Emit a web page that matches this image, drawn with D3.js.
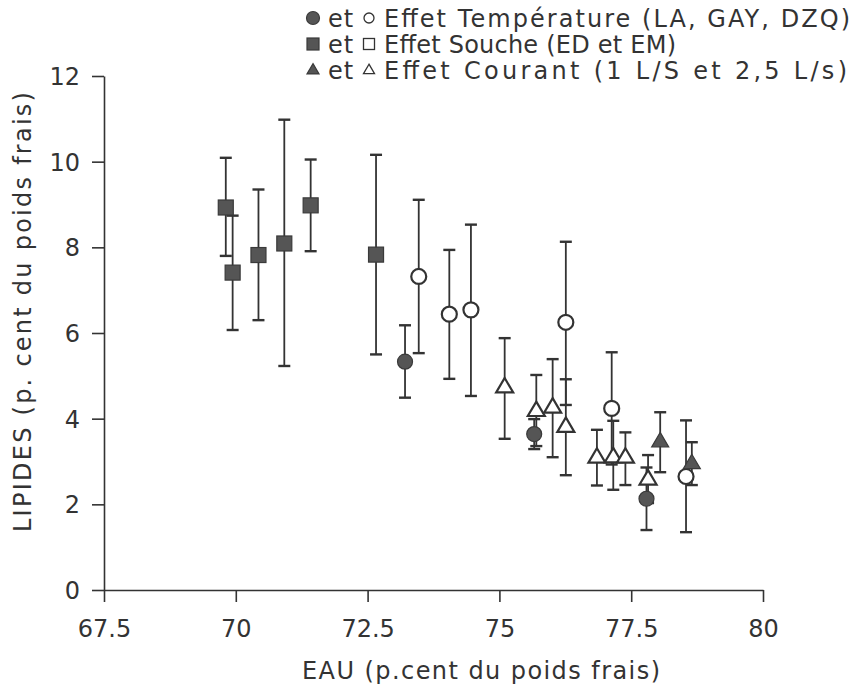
<!DOCTYPE html>
<html>
<head>
<meta charset="utf-8">
<script src="https://cdn.jsdelivr.net/npm/d3@7"></script>
<style>
  html, body { margin: 0; padding: 0; background: #fff; }
  svg { display: block; }
  text { font-family: "DejaVu Sans", sans-serif; fill: #333; }
</style>
</head>
<body>
<svg id="chart" width="859" height="691"></svg>
<script>
// ---- data ----
const xTicks = [67.5, 70, 72.5, 75, 77.5, 80];
const yTicks = [0, 2, 4, 6, 8, 10, 12];
const xTickLabels = ["67.5", "70", "72.5", "75", "77.5", "80"];
const xTitle = "EAU (p.cent du poids frais)";
const yTitle = "LIPIDES (p. cent du poids frais)";
const legendLabels = [
  "Effet Température (LA, GAY, DZQ)",
  "Effet Souche (ED et EM)",
  "Effet Courant (1 L/S et 2,5 L/s)"
];
// [x, y, low, high]
const temperatureFilled = [[73.21, 5.33, 4.49, 6.18], [75.66, 3.64, 3.29, 3.99], [77.79, 2.13, 1.40, 2.86]];
const temperatureOpen = [[73.47, 7.32, 5.53, 9.11], [74.05, 6.44, 4.93, 7.94], [74.46, 6.54, 4.53, 8.53],
                         [76.26, 6.25, 4.32, 8.13], [77.13, 4.24, 2.93, 5.55], [78.54, 2.65, 1.35, 3.96]];
const soucheFilled = [[69.81, 8.93, 7.80, 10.09], [69.94, 7.41, 6.07, 8.74], [70.43, 7.82, 6.30, 9.35],
                      [70.92, 8.09, 5.23, 10.98], [71.42, 8.98, 7.91, 10.05], [72.66, 7.83, 5.50, 10.16]];
const soucheOpen = [];
const courantFilled = [[78.05, 3.47, 2.75, 4.15], [78.65, 2.96, 2.45, 3.45]];
const courantOpen = [[75.10, 4.74, 3.53, 5.88], [75.70, 4.19, 3.36, 5.02], [76.01, 4.27, 3.10, 5.39],
                     [76.26, 3.82, 2.68, 4.92], [76.85, 3.10, 2.44, 3.74], [77.16, 3.11, 2.34, 3.95],
                     [77.39, 3.10, 2.45, 3.68], [77.82, 2.59, 2.03, 3.15]];

// ---- drawing ----
const INK = "#333";
const FILL = "#555";
const FS = "24px";
const svg = d3.select("#chart");
const x = d3.scaleLinear().domain([67.5, 80]).range([104, 763]);
const y = d3.scaleLinear().domain([0, 12]).range([590, 76]);

// axes
const gx = svg.append("g").attr("transform", "translate(0,590)")
  .call(d3.axisBottom(x).tickValues(xTicks).tickSize(12).tickSizeOuter(0)
    .tickFormat((d, i) => xTickLabels[i]));
const gy = svg.append("g").attr("transform", "translate(104,0)")
  .call(d3.axisLeft(y).tickValues(yTicks).tickSize(12).tickSizeOuter(0).tickFormat(d3.format("d")));
[gx, gy].forEach(g => {
  g.select(".domain").attr("stroke", INK).attr("stroke-width", 1.6);
  g.selectAll(".tick line").attr("stroke", INK).attr("stroke-width", 1.6);
  g.selectAll(".tick text").style("font-family", "'DejaVu Sans', sans-serif")
    .style("font-size", FS).attr("fill", INK);
});
gx.selectAll(".tick text").attr("dy", "0").attr("y", 47);
gy.selectAll(".tick text").attr("x", -24).attr("dy", "0.36em");

svg.append("text").attr("x", 481).attr("y", 679).attr("text-anchor", "middle")
  .style("font-size", FS).attr("textLength", 358).attr("lengthAdjust", "spacing").text(xTitle);
svg.append("text").attr("transform", "translate(31,312) rotate(-90)").attr("text-anchor", "middle")
  .style("font-size", FS).attr("textLength", 440).attr("lengthAdjust", "spacing").text(yTitle);

// symbols
function drawSym(g, type, filled, size) {
  const s = size;
  let el;
  if (type === "circle") {
    el = g.append("circle").attr("r", s / 2);
  } else if (type === "square") {
    el = g.append("rect").attr("x", -s / 2).attr("y", -s / 2).attr("width", s).attr("height", s);
  } else {
    const h = s * 0.85;
    el = g.append("path").attr("d", `M0,${-h * 0.62}L${s / 2},${h * 0.38}L${-s / 2},${h * 0.38}Z`);
  }
  el.attr("fill", filled ? FILL : "#fff").attr("stroke", filled ? "#3a3a3a" : INK)
    .attr("stroke-width", filled ? 1.2 : 2.2);
}

const series = [
  { data: soucheFilled, type: "square", filled: true },
  { data: soucheOpen, type: "square", filled: false },
  { data: temperatureOpen, type: "circle", filled: false },
  { data: courantOpen, type: "triangle", filled: false },
  { data: temperatureFilled, type: "circle", filled: true },
  { data: courantFilled, type: "triangle", filled: true }
];

// error bars first
const bars = svg.append("g");
series.forEach(s => {
  s.data.forEach(d => {
    const cx = x(d[0]);
    const g = bars.append("g").attr("stroke", INK).attr("stroke-width", 1.8);
    g.append("line").attr("x1", cx).attr("x2", cx).attr("y1", y(d[2])).attr("y2", y(d[3]));
    g.append("line").attr("x1", cx - 6).attr("x2", cx + 6).attr("y1", y(d[2])).attr("y2", y(d[2])).attr("stroke-width", 2.4);
    g.append("line").attr("x1", cx - 6).attr("x2", cx + 6).attr("y1", y(d[3])).attr("y2", y(d[3])).attr("stroke-width", 2.4);
  });
});
const marks = svg.append("g");
series.forEach(s => {
  s.data.forEach(d => {
    const g = marks.append("g").attr("transform", `translate(${x(d[0])},${y(d[1])})`);
    drawSym(g, s.type, s.filled, s.type === "triangle" ? 17 : 15);
  });
});

// legend
const legendTypes = ["circle", "square", "triangle"];
const legendWidths = [466, 292, 463];
legendLabels.forEach((lab, i) => {
  const ly = 18 + i * 26;
  const g = svg.append("g");
  drawSym(g.append("g").attr("transform", `translate(313,${ly})`), legendTypes[i], true, legendTypes[i] === "circle" ? 13 : 12);
  g.append("text").attr("x", 328).attr("y", ly).attr("dy", "0.36em").style("font-size", FS)
    .style("letter-spacing", "1px").text("et");
  const og = g.append("g").attr("transform", `translate(369,${ly})`);
  const osz = legendTypes[i] === "circle" ? 10 : 11;
  drawSym(og, legendTypes[i], false, osz);
  og.selectAll("*").attr("stroke-width", 1.3);
  g.append("text").attr("x", 384).attr("y", ly).attr("dy", "0.36em").style("font-size", FS)
    .attr("textLength", legendWidths[i]).attr("lengthAdjust", "spacing").text(lab);
});
</script>
</body>
</html>
